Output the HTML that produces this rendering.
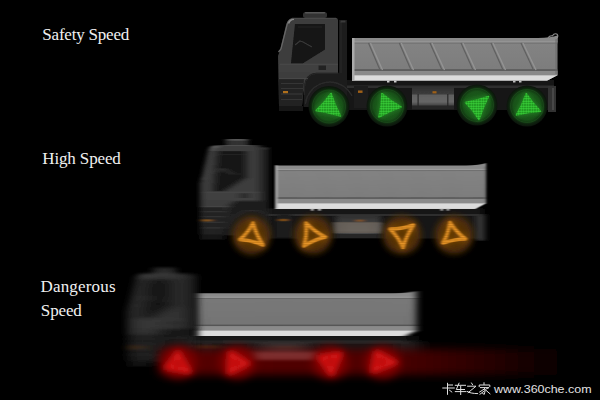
<!DOCTYPE html>
<html><head><meta charset="utf-8">
<style>
html,body{margin:0;padding:0;background:#000;width:600px;height:400px;overflow:hidden}
svg{display:block}
.lbl{font-family:"Liberation Serif",serif;fill:#f0f0f0;font-size:17px}
</style></head>
<body>
<svg width="600" height="400" viewBox="0 0 600 400">
<defs>
  <linearGradient id="boxg" x1="0" y1="0" x2="0" y2="1">
    <stop offset="0" stop-color="#848484"/>
    <stop offset="1" stop-color="#7a7a7a"/>
  </linearGradient>
  <linearGradient id="tank" x1="0" y1="0" x2="0" y2="1">
    <stop offset="0" stop-color="#2e2e2e"/>
    <stop offset="0.4" stop-color="#3c3c3c"/>
    <stop offset="0.45" stop-color="#606060"/>
    <stop offset="0.8" stop-color="#666"/>
    <stop offset="1" stop-color="#3e3e3e"/>
  </linearGradient>
  <radialGradient id="gwheel" cx="0.5" cy="0.5" r="0.5">
    <stop offset="0" stop-color="#1f661f"/>
    <stop offset="0.66" stop-color="#195219"/>
    <stop offset="0.8" stop-color="#123812"/>
    <stop offset="0.88" stop-color="#0e220e"/>
    <stop offset="1" stop-color="#0c130c"/>
  </radialGradient>
  <g id="gw"><circle r="20.5" fill="url(#gwheel)"/><circle r="16.5" fill="none" stroke="#2a6a2a" stroke-opacity="0.3" stroke-width="1"/></g>
  <pattern id="dots" width="2.5" height="2.5" patternUnits="userSpaceOnUse">
    <rect width="2.5" height="2.5" fill="#137a13"/>
    <circle cx="1.25" cy="1.25" r="1.1" fill="#3cd63c"/>
  </pattern>
  <radialGradient id="owg" cx="0.5" cy="0.5" r="0.5">
    <stop offset="0" stop-color="#3e2406"/>
    <stop offset="0.55" stop-color="#50300a"/>
    <stop offset="0.75" stop-color="#3a2206"/>
    <stop offset="1" stop-color="#000" stop-opacity="0"/>
  </radialGradient>
  <g id="ow"><circle r="19" fill="#553209" filter="url(#owb)"/><circle r="12" fill="#402506" filter="url(#owb)"/></g>
  <pattern id="odots" width="2.4" height="2.4" patternUnits="userSpaceOnUse">
    <rect width="2.4" height="2.4" fill="#b06a10"/>
    <circle cx="1.2" cy="1.2" r="1" fill="#f4a030"/>
  </pattern>
  <linearGradient id="trail" x1="0" y1="0" x2="1" y2="0">
    <stop offset="0" stop-color="#550000"/>
    <stop offset="0.55" stop-color="#4c0002"/>
    <stop offset="0.68" stop-color="#3a0002"/>
    <stop offset="0.82" stop-color="#240000"/>
    <stop offset="0.95" stop-color="#0a0000"/>
    <stop offset="1" stop-color="#000"/>
  </linearGradient>
  <filter id="soft" x="-10%" y="-10%" width="120%" height="120%"><feGaussianBlur stdDeviation="0.6"/></filter>
  <filter id="t1s" x="-5%" y="-5%" width="110%" height="110%"><feGaussianBlur stdDeviation="0.35"/></filter>
  <filter id="gglow" x="-30%" y="-30%" width="160%" height="160%"><feGaussianBlur stdDeviation="2.5"/></filter>
  <filter id="c2" x="-10%" y="-10%" width="120%" height="120%"><feGaussianBlur stdDeviation="3 0.6"/></filter>
  <filter id="c3" x="-20%" y="-10%" width="140%" height="120%"><feGaussianBlur stdDeviation="9 1.2"/></filter>
  <filter id="bi2" x="-10%" y="-10%" width="120%" height="120%"><feGaussianBlur stdDeviation="7 0.4"/></filter>
  <filter id="bi3" x="-10%" y="-10%" width="120%" height="120%"><feGaussianBlur stdDeviation="14 0.2"/></filter>
  <filter id="be2" x="-10%" y="-10%" width="120%" height="120%"><feGaussianBlur stdDeviation="1 0.4"/></filter>
  <filter id="be3" x="-10%" y="-10%" width="120%" height="120%"><feGaussianBlur stdDeviation="3.3 0.45"/></filter>
  <filter id="owb" x="-50%" y="-50%" width="200%" height="200%"><feGaussianBlur stdDeviation="3"/></filter>
  <filter id="ob" x="-20%" y="-20%" width="140%" height="140%"><feGaussianBlur stdDeviation="0.9 0.3"/></filter>
  <filter id="tb" x="-10%" y="-50%" width="120%" height="200%"><feGaussianBlur stdDeviation="6 4"/></filter>
  <filter id="tb2" x="-30%" y="-100%" width="160%" height="300%"><feGaussianBlur stdDeviation="6 1.5"/></filter>
  <filter id="rg" x="-50%" y="-50%" width="200%" height="200%"><feGaussianBlur stdDeviation="5 4"/></filter>
  <filter id="rb" x="-50%" y="-50%" width="200%" height="200%"><feGaussianBlur stdDeviation="3.4 2.4"/></filter>

  <clipPath id="cabclip"><path d="M303,12 L327,12 L327,18 L347,18 L347,112 L278,112 L278,56 L280,50 L286,25 Q288,18 292,18 L303,18 Z"/></clipPath>
  <filter id="ci2" x="-10%" y="-10%" width="120%" height="120%"><feGaussianBlur stdDeviation="3.5 0.5"/></filter>
  <filter id="ce2" x="-20%" y="-10%" width="140%" height="120%"><feGaussianBlur stdDeviation="2.2 0.6"/></filter>
  <filter id="ci3" x="-10%" y="-10%" width="120%" height="120%"><feGaussianBlur stdDeviation="8 0.8"/></filter>
  <filter id="ce3" x="-20%" y="-10%" width="140%" height="120%"><feGaussianBlur stdDeviation="3.8 1"/></filter>
  <clipPath id="boxclip"><path d="M352,38 L538,38 Q551,37.8 557.5,35.5 L557.5,75.3 L547,80.8 L352,80.8 Z"/></clipPath>

  <!-- chassis (truck-1 coords) -->
  <g id="chassis">
    <rect x="338" y="80" width="216" height="6" fill="#121212"/>
    <rect x="338" y="85.5" width="216" height="2.5" fill="#2e2e2e"/>
    <rect x="338" y="88" width="216" height="22" fill="#161616"/>
    <rect x="412" y="86" width="42" height="20" fill="url(#tank)"/>
    <rect x="417.5" y="94" width="1.2" height="12" fill="#262626"/>
    <rect x="447.2" y="94" width="1.2" height="12" fill="#262626"/>
    <rect x="412" y="105.5" width="42" height="4" fill="#262626"/>
    <rect x="548" y="86" width="8" height="26" fill="#303030"/>
    <rect x="552" y="88" width="2" height="22" fill="#474747"/>
    <rect x="354" y="86" width="14" height="22" fill="#1f1f1f"/>
    <rect x="358" y="90.5" width="4.5" height="2.4" fill="#a06018"/>
    <rect x="432.5" y="91.2" width="4" height="2.2" fill="#a06018"/>
  </g>

  <!-- cab -->
  <g id="cab">
    <rect x="339" y="20" width="8" height="92" fill="#1d1d1d"/>
    <rect x="340.5" y="22" width="1" height="86" fill="#2c2c2c"/>
    <path d="M292,18 L337,18 L338,20 L338,80 L315,80 Q304,82 303,96 L302,106 L279,106 L278,56 L280,50 L286,25 Q288,19 292,18 Z" fill="#3c3c3c"/>
    <path d="M279,64 L338,64 L338,72.8 L279,72.8 Z" fill="#404040"/>
    <path d="M279,72.8 L310,72.8 L306,79 L279,79 Z" fill="#3c3c3c"/>
    <path d="M303.5,107 L304,87 Q305,73.3 317,72.8 L346,72.8 L346,107 Z" fill="#1c1c1c"/>
    <path d="M305.5,104 A24.5,24.5 0 0 1 352,96" stroke="#2c2c2c" stroke-width="1.4" fill="none"/>
    <path d="M304.3,95 L304.6,87 Q305.6,74 317,73.4 L338,73.4" stroke="#2a2a2a" stroke-width="0.9" fill="none"/>
    <path d="M279,79 L304,79 L302,106 L279,106 Z" fill="#242424"/>
    <g stroke="#363636" stroke-width="1">
      <line x1="281" y1="83.5" x2="303" y2="83.5"/>
      <line x1="281" y1="88.5" x2="303" y2="88.5"/>
      <line x1="281" y1="94" x2="302" y2="94"/>
      <line x1="281" y1="99.5" x2="302" y2="99.5"/>
    </g>
    <rect x="279" y="106" width="24" height="5" fill="#161616"/>
    <rect x="303" y="12" width="24" height="6" rx="2.5" fill="#333"/>
    <rect x="305" y="12" width="20" height="1.5" rx="0.7" fill="#565656"/>
    <path d="M295,24 L325,24 L325,49.5 L302.5,63.5 L291,63.5 Z" fill="#141414"/>
    <path d="M295,45 L300,41 L303,42 L312,47" stroke="#3a3a3a" stroke-width="1.3" fill="none"/>
    <path d="M298,27 L322,27" stroke="#222" stroke-width="1.5"/>
    <path d="M293,19 Q289,19.5 287.5,23 L281,49 L278.5,52" stroke="#666" stroke-width="1.3" fill="none"/>
    <path d="M294,19.2 Q290,19.5 288.5,23.5" stroke="#8a8a8a" stroke-width="1.6" fill="none"/>
    <rect x="340.5" y="20.5" width="5" height="2" fill="#3a3a3a"/>
    <path d="M292,18.3 L336,18.3" stroke="#4e4e4e" stroke-width="1"/>
    <line x1="280" y1="64.2" x2="338" y2="64.2" stroke="#4c4c4c" stroke-width="0.8"/>
    <line x1="279" y1="78.6" x2="308" y2="78.6" stroke="#4a4a4a" stroke-width="0.8"/>
    <rect x="318.5" y="65.5" width="7.5" height="4.5" fill="#202020"/>
    <rect x="283" y="91" width="5" height="2.2" fill="#b0701c"/>
  </g>

  <!-- box content (wide bands, for blurring) -->
  <g id="boxbands">
    <rect x="330" y="38" width="250" height="43" fill="url(#boxg)"/>
    <rect x="330" y="34" width="250" height="7.5" fill="#8a8a8a"/>
    <rect x="330" y="41.3" width="250" height="1.2" fill="#9a9a9a"/>
    <rect x="330" y="42.7" width="250" height="0.8" fill="#6a6a6a"/>
    <rect x="330" y="69.3" width="250" height="1.6" fill="#555"/>
    <rect x="330" y="70.9" width="250" height="4.4" fill="#8a8a8a"/>
    <rect x="330" y="75.3" width="250" height="5.5" fill="#dcdcdc"/>
  </g>
  <g id="ribs">
    <g stroke="#606060" stroke-width="1.2">
      <line x1="368.5" y1="43" x2="380" y2="70"/>
      <line x1="399.3" y1="43" x2="411" y2="70"/>
      <line x1="430" y1="43" x2="442" y2="70"/>
      <line x1="461" y1="43" x2="473" y2="70"/>
      <line x1="491" y1="43" x2="503" y2="70"/>
      <line x1="521" y1="43" x2="533.5" y2="70"/>
    </g>
    <g stroke="#949494" stroke-width="1.3">
      <line x1="370.5" y1="43" x2="382.5" y2="70"/>
      <line x1="401.3" y1="43" x2="413.5" y2="70"/>
      <line x1="432" y1="43" x2="444.5" y2="70"/>
      <line x1="463" y1="43" x2="475.5" y2="70"/>
      <line x1="493" y1="43" x2="505.5" y2="70"/>
      <line x1="523" y1="43" x2="536" y2="70"/>
    </g>
  </g>
  <g id="boxextra">
    <rect x="352" y="38" width="2.5" height="42.5" fill="#aaa"/>
    <rect x="387" y="80.5" width="2.5" height="2" fill="#ccc"/>
    <rect x="394" y="80.5" width="2.5" height="2" fill="#ccc"/>
    <rect x="513" y="80.5" width="2.5" height="2" fill="#bbb"/>
    <rect x="519" y="80.5" width="2.5" height="2" fill="#bbb"/>
    <rect x="555.6" y="39" width="0.9" height="35" fill="#666"/>
  </g>

  <g id="box1">
    <g clip-path="url(#boxclip)"><use href="#boxbands"/><use href="#ribs"/></g>
    <use href="#boxextra"/>
    <path d="M548,37.8 Q549.5,35.5 552.5,35.8 Q554,33 556.8,34 Q558.6,35.3 557.2,38" stroke="#8e8e8e" stroke-width="1.1" fill="none"/>
  </g>
  <g id="box2">
    <g filter="url(#be2)">
      <g clip-path="url(#boxclip)"><g filter="url(#bi2)"><use href="#boxbands"/><use href="#ribs"/></g></g>
      <use href="#boxextra"/>
    </g>
  </g>
  <g id="box3">
    <g filter="url(#be3)">
      <g clip-path="url(#boxclip)"><g filter="url(#bi3)"><use href="#boxbands"/><use href="#ribs"/></g><rect x="340" y="42.5" width="230" height="27" fill="#000" opacity="0.07"/></g>
    </g>
  </g>
</defs>

<!-- Truck 1 -->
<g filter="url(#t1s)">
<use href="#chassis"/>
<use href="#cab"/>
<use href="#box1"/>
</g>
<g>
  <use href="#gw" x="329" y="106.5"/>
  <use href="#gw" x="387" y="106"/>
  <use href="#gw" x="477" y="105"/>
  <use href="#gw" x="527" y="106"/>
  <g id="gtri" filter="url(#gglow)" fill="#2a9a2a" stroke="#2a9a2a" stroke-width="2" opacity="0.7">
  <path d="M331.0,93.5 Q334.6,105.1 340.5,116.0 Q328.4,112.1 316.0,110.5 Q324.5,102.8 331.0,93.5 Z"/>
  <path d="M382.0,93.5 Q390.8,101.3 401.0,107.0 Q389.5,110.9 379.0,117.0 Q381.7,105.4 382.0,93.5 Z"/>
  <path d="M465.5,102.5 Q477.1,100.7 488.5,96.5 Q482.7,107.7 479.0,119.5 Q473.2,110.1 465.5,102.5 Z"/>
  <path d="M526.2,93.8 Q532.3,103.2 540.5,111.2 Q528.4,111.9 516.5,115.0 Q522.5,104.8 526.2,93.8 Z"/>
  </g>
  <g filter="url(#soft)" fill="url(#dots)" stroke="url(#dots)" stroke-width="1.6" stroke-linejoin="round">
  <path d="M331.0,93.5 Q334.6,105.1 340.5,116.0 Q328.4,112.1 316.0,110.5 Q324.5,102.8 331.0,93.5 Z"/>
  <path d="M382.0,93.5 Q390.8,101.3 401.0,107.0 Q389.5,110.9 379.0,117.0 Q381.7,105.4 382.0,93.5 Z"/>
  <path d="M465.5,102.5 Q477.1,100.7 488.5,96.5 Q482.7,107.7 479.0,119.5 Q473.2,110.1 465.5,102.5 Z"/>
  <path d="M526.2,93.8 Q532.3,103.2 540.5,111.2 Q528.4,111.9 516.5,115.0 Q522.5,104.8 526.2,93.8 Z"/>
  </g>
</g>

<!-- Truck 2 -->
<g transform="translate(275,165.5) scale(1.028,1.015) translate(-352,-38)">
  <g filter="url(#c2)"><use href="#chassis"/></g>
  <g filter="url(#ce2)"><g clip-path="url(#cabclip)"><g filter="url(#ci2)"><use href="#cab"/></g></g></g>
  <use href="#box2"/>
</g>
<rect x="334" y="222" width="46" height="11" fill="#6e6458" opacity="0.6" filter="url(#c2)"/>
<g>
  <use href="#ow" x="251.5" y="235.5"/>
  <use href="#ow" x="313" y="235"/>
  <use href="#ow" x="402" y="235"/>
  <use href="#ow" x="454" y="235"/>
  <g filter="url(#owb)" fill="none" stroke="#c07010" stroke-width="5" stroke-linejoin="round" opacity="0.55">
    <path d="M253.0,223.0 Q248.2,232.6 240.0,239.5 Q251.7,240.3 263.0,245.0 Q256.2,234.6 253.0,223.0 Z"/>
    <path d="M306.0,223.0 Q314.6,231.6 325.5,237.0 Q313.9,239.7 304.0,246.0 Q307.1,234.8 306.0,223.0 Z"/>
    <path d="M390.0,229.0 Q401.9,229.1 413.5,225.0 Q406.4,235.5 403.0,247.5 Q398.2,236.9 390.0,229.0 Z"/>
    <path d="M450.0,222.5 Q448.4,233.4 443.0,243.0 Q453.8,239.2 465.5,239.0 Q456.3,232.0 450.0,222.5 Z"/>
  </g>
  <g filter="url(#ob)" fill="none" stroke="url(#odots)" stroke-width="3.6" stroke-linejoin="round">
    <path d="M253.0,223.0 Q248.2,232.6 240.0,239.5 Q251.7,240.3 263.0,245.0 Q256.2,234.6 253.0,223.0 Z"/>
    <path d="M306.0,223.0 Q314.6,231.6 325.5,237.0 Q313.9,239.7 304.0,246.0 Q307.1,234.8 306.0,223.0 Z"/>
    <path d="M390.0,229.0 Q401.9,229.1 413.5,225.0 Q406.4,235.5 403.0,247.5 Q398.2,236.9 390.0,229.0 Z"/>
    <path d="M450.0,222.5 Q448.4,233.4 443.0,243.0 Q453.8,239.2 465.5,239.0 Q456.3,232.0 450.0,222.5 Z"/>
  </g>
</g>

<!-- Truck 3 -->
<g transform="translate(197,293.3) scale(1.068,1) translate(-352,-38)">
  <g filter="url(#c3)"><use href="#chassis"/></g>
  <use href="#box3"/>
</g>
<g transform="translate(126,293.3) scale(1.04,1) translate(-278,-38)">
  <g filter="url(#ce3)" opacity="0.85"><g clip-path="url(#cabclip)"><g filter="url(#ci3)"><use href="#cab"/></g></g></g>
</g>
<g>
  <rect x="160" y="349" width="410" height="26" fill="url(#trail)" filter="url(#tb)"/>
  <rect x="252" y="352" width="70" height="8" fill="#a05050" opacity="0.55" filter="url(#tb2)"/>
  <g filter="url(#rg)">
    <ellipse cx="178.5" cy="362.5" rx="18" ry="16" fill="#7e0505"/>
    <ellipse cx="237" cy="362.5" rx="18" ry="16" fill="#7e0505"/>
    <ellipse cx="330.5" cy="362.5" rx="18" ry="16" fill="#7e0505"/>
    <ellipse cx="382.5" cy="362.5" rx="18" ry="16" fill="#7e0505"/>
  </g>
  <g filter="url(#rb)" fill="#b80e0e" stroke="#d41414" stroke-width="5" stroke-linejoin="round">
    <path d="M178,352.5 L189,371.5 L167,367.5 Z"/>
    <path d="M230.5,353 L247.5,363.5 L229.5,372.5 Z"/>
    <path d="M320,357.5 L340,354 L331.5,374 Z"/>
    <path d="M376.5,352.5 L395,362.5 L373,371 Z"/>
  </g>
</g>

<!-- labels -->
<text class="lbl" x="42.3" y="40.3" textLength="87" lengthAdjust="spacing">Safety Speed</text>
<text class="lbl" x="42.3" y="164" textLength="78.5" lengthAdjust="spacing">High Speed</text>
<text class="lbl" x="40.5" y="292" textLength="75" lengthAdjust="spacing">Dangerous</text>
<text class="lbl" x="40.8" y="315.6" textLength="41" lengthAdjust="spacing">Speed</text>
<text x="494" y="393" font-family="Liberation Sans, sans-serif" font-size="11.5" fill="#e2e2e2" textLength="97.5" lengthAdjust="spacingAndGlyphs">www.360che.com</text>
<g stroke="#e2e2e2" stroke-width="1" fill="none" stroke-linecap="square">
  <path d="M447.5,383.3 V394.3 M447.5,385 H452.5 M442.8,388 H454.3 M449.5,390.2 L451.8,392"/>
  <path d="M455.3,385.3 H465.5 M459,383.2 L456.3,389.5 H464.5 M460.7,386.5 V394.5 M455.3,391.6 H466"/>
  <path d="M471.5,383 L472.5,384.6 M467.6,386.2 H476 L468.2,392.6 M467.4,391.6 Q470,393.5 477.6,393.6"/>
  <path d="M484,382.8 V384.4 M479.2,386.6 V385 H489.8 V386.6 M480.5,387.6 H488.4 M484.6,388 Q485.8,391 484.3,394.3 L482.8,393.6 M484,389.2 L479.6,392 M484.3,391 L480,394.2 M485.2,389.6 L490,393.8 M486.5,388.8 L488.6,387.8"/>
</g>
</svg>
</body></html>
